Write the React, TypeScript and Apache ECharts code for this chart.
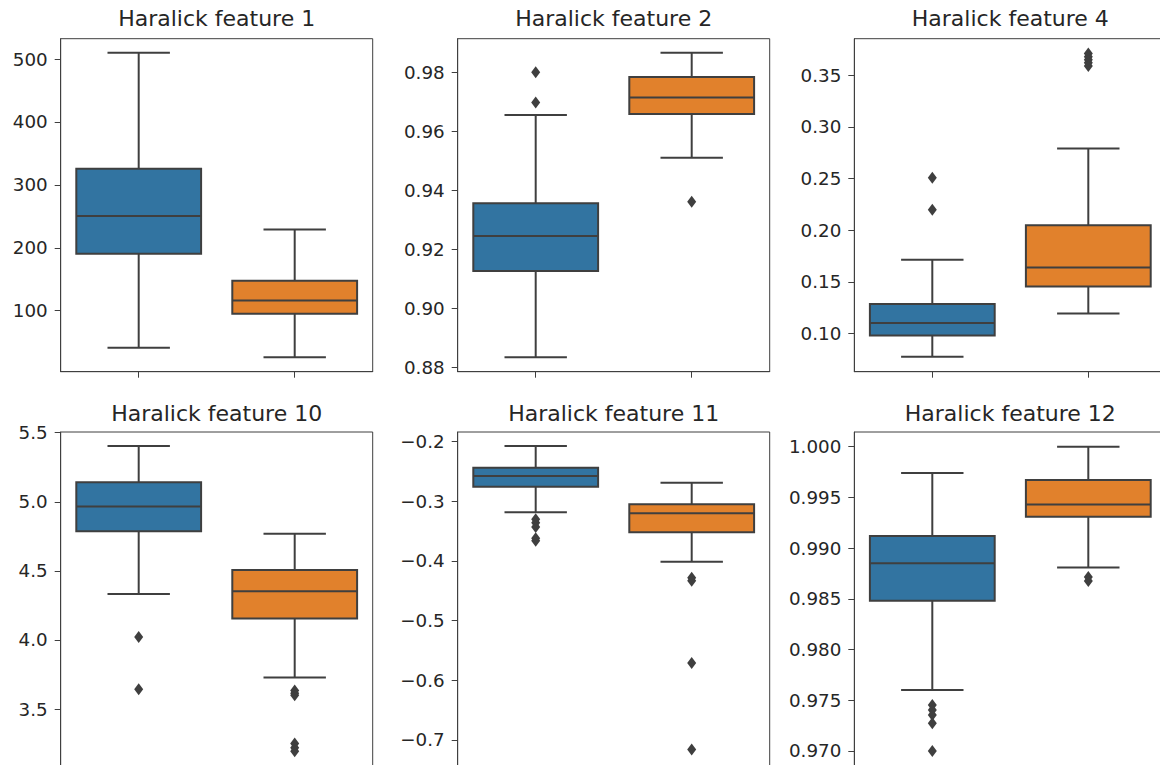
import React, { useEffect, useRef } from 'react';
import * as echarts from 'echarts';

// ---- data ----
const TITLES = [
  'Haralick feature 1',
  'Haralick feature 2',
  'Haralick feature 4',
  'Haralick feature 10',
  'Haralick feature 11',
  'Haralick feature 12',
];
const GROUPS = ['0', '1'];

// [lower whisker, Q1, median, Q3, upper whisker] per group
const F1_STATS = [[41, 190.5, 250.4, 325.6, 510], [26, 95, 116, 147.6, 229]];
const F1_OUT: number[][] = [[], []];
const F1_TICKS = [100, 200, 300, 400, 500];
const F1_RANGE = [3, 532.3];

const F2_STATS = [[0.8834, 0.9126, 0.9245, 0.9356, 0.9655], [0.951, 0.9659, 0.9715, 0.9784, 0.9866]];
const F2_OUT = [[0.98, 0.9698], [0.9361]];
const F2_TICKS = [0.88, 0.9, 0.92, 0.94, 0.96, 0.98];
const F2_RANGE = [0.8785, 0.9914];

const F4_STATS = [[0.0774, 0.098, 0.1102, 0.1286, 0.1715], [0.1193, 0.1454, 0.1638, 0.2047, 0.2791]];
const F4_OUT = [[0.2507, 0.2198], [0.371, 0.368, 0.365, 0.362, 0.359]];
const F4_TICKS = [0.1, 0.15, 0.2, 0.25, 0.3, 0.35];
const F4_RANGE = [0.063, 0.3854];

const F10_STATS = [[4.333, 4.786, 4.965, 5.141, 5.404], [3.729, 4.156, 4.352, 4.506, 4.769]];
const F10_OUT = [[4.021, 3.643], [3.635, 3.615, 3.6, 3.25, 3.22, 3.195]];
const F10_TICKS = [3.5, 4.0, 4.5, 5.0, 5.5];
const F10_RANGE = [3.0878, 5.505];

const F11_STATS = [[-0.3183, -0.2754, -0.2575, -0.2436, -0.2072], [-0.4011, -0.3517, -0.3198, -0.3047, -0.2687]];
const F11_OUT = [[-0.33, -0.336, -0.343, -0.362, -0.366], [-0.428, -0.433, -0.571, -0.7158]];
const F11_TICKS = [-0.7, -0.6, -0.5, -0.4, -0.3, -0.2];
const F11_RANGE = [-0.7436, -0.1838];

const F12_STATS = [[0.97601, 0.98482, 0.9885, 0.9912, 0.99741], [0.98808, 0.9931, 0.99429, 0.99672, 1.0]];
const F12_OUT = [[0.97454, 0.97405, 0.97356, 0.97274, 0.97], [0.98716, 0.98677]];
const F12_TICKS = [0.97, 0.975, 0.98, 0.985, 0.99, 0.995, 1.0];
const F12_RANGE = [0.96852, 1.00145];

const PANELS = [
  { stats: F1_STATS, out: F1_OUT, ticks: F1_TICKS, range: F1_RANGE, dec: 0 },
  { stats: F2_STATS, out: F2_OUT, ticks: F2_TICKS, range: F2_RANGE, dec: 2 },
  { stats: F4_STATS, out: F4_OUT, ticks: F4_TICKS, range: F4_RANGE, dec: 2 },
  { stats: F10_STATS, out: F10_OUT, ticks: F10_TICKS, range: F10_RANGE, dec: 1 },
  { stats: F11_STATS, out: F11_OUT, ticks: F11_TICKS, range: F11_RANGE, dec: 1 },
  { stats: F12_STATS, out: F12_OUT, ticks: F12_TICKS, range: F12_RANGE, dec: 3 },
];

// ---- styling / layout ----
const PALETTE = ['#3274a1', '#e1812c'];
const GRAY = '#3f3f3f';
const TEXT = '#262626';
const FONT = 'DejaVu Sans';
const LEFTS = [60.7, 457.7, 854.3];
const TOPS = [38.7, 432];
const W = 312;
const HEIGHTS = [333, 334];
const TITLE_MID = [18, 413];

function fmt(v: number, dec: number) {
  const s = v.toFixed(dec);
  return s.replace('-', '\u2212');
}

export default function App() {
  const ref = useRef<HTMLDivElement>(null);
  useEffect(() => {
    document.body.style.margin = '0';
    if (!ref.current) return;
    const chart = echarts.init(ref.current, undefined, { renderer: 'svg' });
    const grid: any[] = [];
    const xAxis: any[] = [];
    const yAxis: any[] = [];
    const series: any[] = [];
    const graphic: any[] = [];
    PANELS.forEach((p, i) => {
      const col = i % 3;
      const row = Math.floor(i / 3);
      grid.push({
        left: LEFTS[col], top: TOPS[row], width: W, height: HEIGHTS[row],
        show: true, borderColor: GRAY, borderWidth: 1, backgroundColor: 'transparent',
        containLabel: false, outerBoundsMode: 'none',
      });
      xAxis.push({
        type: 'category', gridIndex: i, data: GROUPS, boundaryGap: true,
        axisLine: { show: true, lineStyle: { color: GRAY, width: 1 } },
        axisTick: { show: true, alignWithLabel: true, length: 6, lineStyle: { color: GRAY, width: 1 } },
        axisLabel: { show: false },
        splitLine: { show: false },
      });
      yAxis.push({
        type: 'value', gridIndex: i, min: p.range[0], max: p.range[1],
        axisLine: { show: true, lineStyle: { color: GRAY, width: 1 } },
        axisTick: { show: true, length: 6, customValues: p.ticks, lineStyle: { color: GRAY, width: 1 } },
        axisLabel: {
          show: true, customValues: p.ticks, margin: 13,
          color: TEXT, fontSize: 18.3, fontFamily: FONT,
          formatter: (v: number) => fmt(v, p.dec),
        },
        splitLine: { show: false },
      });
      series.push({
        type: 'custom', xAxisIndex: i, yAxisIndex: i,
        data: p.stats.map((s, g) => [g, ...s]),
        renderItem: (params: any, api: any) => {
          const g = api.value(0);
          const lo = api.coord([g, api.value(1)]);
          const q1 = api.coord([g, api.value(2)]);
          const md = api.coord([g, api.value(3)]);
          const q3 = api.coord([g, api.value(4)]);
          const hi = api.coord([g, api.value(5)]);
          const band = api.size([1, 0])[0];
          const bw = band * 0.8;
          const cw = bw / 2;
          const cx = lo[0];
          const ls = { stroke: GRAY, lineWidth: 2, fill: null };
          return {
            type: 'group',
            children: [
              { type: 'line', shape: { x1: cx, y1: lo[1], x2: cx, y2: q1[1] }, style: ls },
              { type: 'line', shape: { x1: cx, y1: q3[1], x2: cx, y2: hi[1] }, style: ls },
              { type: 'line', shape: { x1: cx - cw / 2, y1: lo[1], x2: cx + cw / 2, y2: lo[1] }, style: ls },
              { type: 'line', shape: { x1: cx - cw / 2, y1: hi[1], x2: cx + cw / 2, y2: hi[1] }, style: ls },
              {
                type: 'rect',
                shape: { x: cx - bw / 2, y: q3[1], width: bw, height: q1[1] - q3[1] },
                style: { fill: PALETTE[g], stroke: GRAY, lineWidth: 2 },
              },
              { type: 'line', shape: { x1: cx - bw / 2, y1: md[1], x2: cx + bw / 2, y2: md[1] }, style: ls },
            ],
          };
        },
        z: 2,
      });
      const outData: number[][] = [];
      p.out.forEach((arr, g) => arr.forEach((v) => outData.push([g, v])));
      series.push({
        type: 'scatter', xAxisIndex: i, yAxisIndex: i,
        data: outData, symbol: 'diamond', symbolSize: [9, 12],
        itemStyle: { color: GRAY, opacity: 1 },
        z: 3,
      });
      graphic.push({
        type: 'text',
        x: LEFTS[col] + W / 2,
        y: TITLE_MID[row],
        style: {
          text: TITLES[i], fill: TEXT, font: `22px "${FONT}"`,
          textAlign: 'center', textVerticalAlign: 'middle', verticalAlign: 'middle',
        },
      });
    });
    chart.setOption({
      animation: false,
      backgroundColor: '#ffffff',
      grid, xAxis, yAxis, series, graphic,
      tooltip: { show: false },
    });
    return () => chart.dispose();
  }, []);
  return (
    <div
      ref={ref}
      style={{ width: 1160, height: 765, background: '#fff' }}
    />
  );
}
